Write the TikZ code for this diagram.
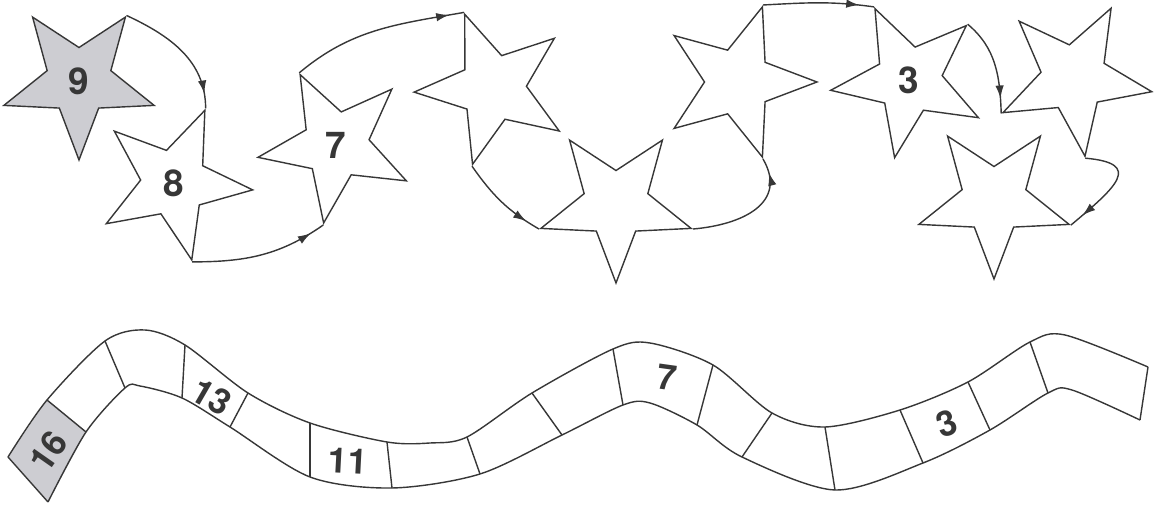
\documentclass[tikz,border=0pt]{standalone}
\usepackage{fontspec}
\setsansfont{TeX Gyre Heros}
\usepackage{tikz}
\usetikzlibrary{arrows.meta, positioning, calc, shapes.geometric, decorations.markings}
\definecolor{inkgray}{RGB}{55, 55, 55}
\definecolor{fillgray}{RGB}{205, 205, 210}

\begin{document}
\begin{tikzpicture}[x=0.02cm, y=0.02cm, line width=0.8pt, color=inkgray,
    starnode/.style={star, star points=5, star point ratio=2.36, minimum size=3.16cm, inner sep=0pt, draw, font=\sffamily\bfseries\fontsize{21}{21}\selectfont},
    hop/.style={postaction={decorate}, decoration={markings, mark=at position -0.3cm with {\arrow{Latex[length=0.26cm, width=0.17cm]}}}},
    cellnum/.style={inner sep=0pt, font=\sffamily\bfseries\fontsize{20}{20}\selectfont}]
    \useasboundingbox (0,0) rectangle (1161,507);

    \node[starnode, fill=fillgray, shape border rotate=180] (s9) at (79,426) {9};
    \node[starnode, shape border rotate=-23] (s8) at (174,324) {8};
    \node[starnode, shape border rotate=27] (s7) at (336,362) {7};
    \node[starnode, shape border rotate=21] (s6) at (493,419) {};
    \node[starnode, shape border rotate=180] (s5) at (616,303) {};
    \node[starnode, shape border rotate=-18] (s4) at (738,425) {};
    \node[starnode, shape border rotate=25.5] (s3) at (909,427) {3};
    \node[starnode, shape border rotate=-28] (s2) at (1074,429) {};
    \node[starnode, shape border rotate=180] (s1) at (994,307) {};

    \draw[hop] (s9.outer point 3) to[out=-25,in=90] (s8.outer point 1);
    \draw[hop] (s8.outer point 4) to[out=0,in=-145] (s7.outer point 3);
    \draw[hop] (s7.outer point 1) to[out=40,in=190] (s6.outer point 1);
    \draw[hop] (s6.outer point 3) to[out=-55,in=150] (s5.outer point 5);
    \draw[hop] (s5.outer point 2) to[out=5,in=-60,looseness=1.3] (s4.outer point 4);
    \draw[hop] (s4.outer point 1) to[out=3,in=172] (s3.outer point 1);
    \draw[hop] (s3.outer point 5) to[out=-40,in=92] (s2.outer point 3);
    \draw[hop] (s2.outer point 4) to[out=-5,in=40,looseness=2.2] (s1.outer point 2);

    \fill[fillgray] (8,50) -- (47,107) -- (86,75) -- (48,5) -- cycle;
    \draw plot[smooth] coordinates {(8,50) (47,107) (105,166) (145,177) (185,162) (248,114) (310,84) (387,65) (430,64) (467,70) (532,114) (613,158) (650,164) (713,142) (772,94) (825,80) (900,97) (968,125) (1030,165) (1065,172) (1148,140)};
    \draw plot[smooth] coordinates {(48,5) (86,75) (125,119) (140,121) (182,109) (230,80) (310,30) (392,19) (480,33) (562,72) (623,102) (650,104) (697,82) (742,50) (835,17) (923,44) (990,77) (1048,114) (1072,117) (1140,87)};
    \draw (8,50) -- (48,5);
    \draw (1148,140) -- (1140,87);
    \foreach \tx/\ty/\bx/\by in {47/107/86/75, 105/166/125/119, 185/162/182/109, 248/114/230/80, 310/84/310/30, 387/65/392/19, 467/70/480/33, 532/114/562/72, 613/158/623/102, 713/142/697/82, 772/94/742/50, 825/80/835/17, 900/97/923/44, 968/125/990/77, 1030/165/1048/114}
        \draw (\tx,\ty) -- (\bx,\by);

    \node[cellnum, rotate=55] (c16) at (48,56) {16};
    \node[cellnum, rotate=-30] (c13) at (212,110) {13};
    \node[cellnum, rotate=-3] (c11) at (348,46) {11};
    \node[cellnum, rotate=-8] (c7) at (667,129) {7};
    \node[cellnum, rotate=18] (c3) at (947,83) {3};
\end{tikzpicture}
\end{document}
